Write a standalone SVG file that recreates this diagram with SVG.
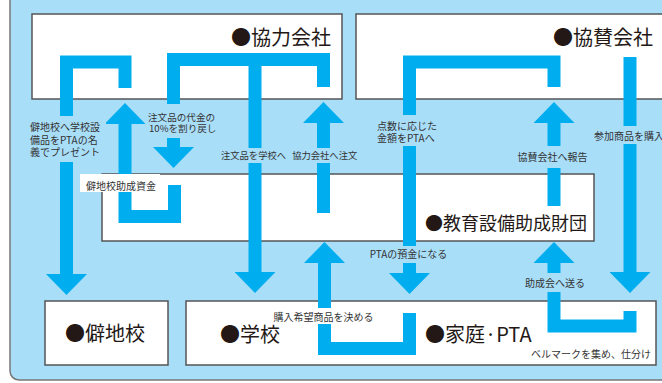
<svg xmlns="http://www.w3.org/2000/svg" width="662" height="383" viewBox="0 0 662 383">
<defs>
<style>
.box{fill:#fff;stroke:#555;stroke-width:1.5}
.bar{fill:none;stroke:#00AEEF;stroke-width:13;stroke-linejoin:miter;stroke-linecap:butt}
.node{font-family:"Noto Sans CJK JP","Noto Sans",sans-serif;font-size:20px;fill:#231815}
.lbl{font-family:"Noto Sans CJK JP","Noto Sans",sans-serif;font-size:10px;fill:#333}
.bg{fill:#A9DEF9}
.wbg{fill:#fff}
</style>
<marker id="ah" viewBox="0 0 21 41" refX="0" refY="20.5" markerWidth="21" markerHeight="41" markerUnits="userSpaceOnUse" orient="auto">
<path d="M0,0 L21,20.5 L0,41 Z" fill="#00AEEF"/>
</marker>
</defs>
<rect x="10" y="-20" width="680" height="400" rx="9" fill="#A9DEF9" stroke="#777" stroke-width="1.5"/>

<g id="kyoryoku">
<rect class="box" x="32" y="14" width="310" height="85"/>
<text class="node" x="331" y="44.6" text-anchor="end">●協力会社</text>
</g>
<g id="kyosan">
<rect class="box" x="356" y="14" width="330" height="85"/>
<text class="node" x="653" y="44.6" text-anchor="end">●協賛会社</text>
</g>
<g id="zaidan">
<rect class="box" x="102" y="174" width="492" height="67"/>
<text class="node" x="425" y="229.8" style="font-size:18px">●教育設備助成財団</text>
</g>
<g id="hekichiko">
<rect class="box" x="45" y="301" width="123" height="64"/>
<text class="node" x="65" y="340.6">●僻地校</text>
</g>
<g id="gakko-katei">
<rect class="box" x="186" y="301" width="470" height="64"/>
<text class="node" x="220" y="341.6">●学校</text>
<text class="node" x="425" y="341.6">●家庭·PTA</text>
</g>

<g id="connectors">
<path class="bar" d="M125,88 V62 H66.5 V274" marker-end="url(#ah)"/>
<path class="bar" d="M174.5,185 V216.5 H125 V124" marker-end="url(#ah)"/>
<path class="bar" d="M323.5,87 V59.5 H173.5 V147" marker-end="url(#ah)"/>
<path class="bar" d="M255,59.5 V272" marker-end="url(#ah)"/>
<path class="bar" d="M323.5,213 V123" marker-end="url(#ah)"/>
<path class="bar" d="M409.5,313 V348.5 H324.5 V263" marker-end="url(#ah)"/>
<path class="bar" d="M554,87 V62 H409.5 V273" marker-end="url(#ah)"/>
<path class="bar" d="M554,206 V123" marker-end="url(#ah)"/>
<path class="bar" d="M630,57 V272" marker-end="url(#ah)"/>
<path class="bar" d="M630,311 V326 H554 V263" marker-end="url(#ah)"/>
</g>

<g id="labels">
<rect class="bg" x="28" y="116" width="78" height="46"/>
<text class="lbl"><tspan x="30" y="131">僻地校へ学校設</tspan><tspan x="30" y="143.5">備品をPTAの名</tspan><tspan x="30" y="156">義でプレゼント</tspan></text>

<rect class="bg" x="146" y="104" width="72" height="34"/>
<text class="lbl" style="font-size:9.6px"><tspan x="148" y="120.5">注文品の代金の</tspan><tspan x="149" y="131.5">10%を割り戻し</tspan></text>

<rect class="bg" x="219" y="148" width="70" height="15"/>
<text class="lbl" x="253.5" y="158.5" text-anchor="middle" style="font-size:9.3px">注文品を学校へ</text>
<rect class="bg" x="290" y="148" width="70" height="15"/>
<text class="lbl" x="324.7" y="158.5" text-anchor="middle" style="font-size:9.3px">協力会社へ注文</text>

<rect class="bg" x="374" y="115" width="72" height="31"/>
<text class="lbl"><tspan x="377" y="129.8">点数に応じた</tspan><tspan x="377" y="141.8">金額をPTAへ</tspan></text>

<rect class="bg" x="514" y="146" width="78" height="22"/>
<text class="lbl" x="552.5" y="160.8" text-anchor="middle">協賛会社へ報告</text>

<rect class="bg" x="592" y="126" width="80" height="18"/>
<text class="lbl" x="594" y="139.8">参加商品を購入</text>

<rect class="wbg" x="80" y="174" width="80" height="18"/>
<text class="lbl" x="86" y="189.8">僻地校助成資金</text>

<rect class="bg" x="364" y="246" width="90" height="17"/>
<text class="lbl" x="408.5" y="257.8" text-anchor="middle">PTAの預金になる</text>

<rect class="bg" x="520" y="273" width="70" height="19"/>
<text class="lbl" x="555" y="286.8" text-anchor="middle">助成会へ送る</text>

<rect class="wbg" x="268" y="308" width="110" height="16"/>
<text class="lbl" x="323.5" y="320.8" text-anchor="middle">購入希望商品を決める</text>

<text class="lbl" x="591" y="357.8" text-anchor="middle">ベルマークを集め、仕分け</text>
</g>
</svg>
